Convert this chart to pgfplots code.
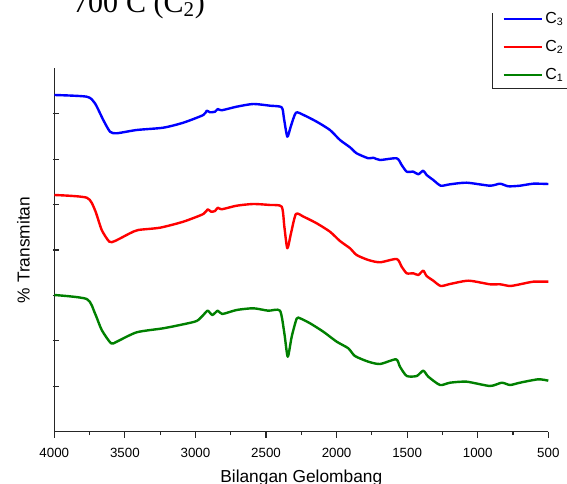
\documentclass[border=0pt]{standalone}
\usepackage{fontspec}
\setmainfont{Liberation Sans}
\newfontfamily\timesfont{Liberation Serif}
\usepackage{pgfplots}
\pgfplotsset{compat=1.18}
\definecolor{cblue}{RGB}{0,0,255}
\definecolor{cred}{RGB}{255,0,0}
\definecolor{cgreen}{RGB}{0,128,0}
\begin{document}
\begin{tikzpicture}
\useasboundingbox (-40.725pt,-39.225pt) rectangle (384.525pt,323.775pt);
\begin{axis}[
  at={(0pt,0pt)}, anchor=south west,
  scale only axis, width=370.5pt, height=272.55pt,
  xmin=500, xmax=4000, x dir=reverse,
  ymin=0, ymax=363.4,
  axis x line*=bottom, axis y line*=left,
  axis line style={-, black!85, line width=0.8pt},
  xtick={500,1000,1500,2000,2500,3000,3500,4000},
  minor x tick num=1,
  ytick={45.4,90.9,136.3,181.7,227.1,272.6,318.0},
  yticklabels={},
  tick align=outside,
  major tick length=4.5pt, minor tick length=2.6pt,
  tick style={black!85, line width=0.8pt},
  ytick style={xshift=3.5pt},
  /pgf/number format/assume math mode=true,
  /pgf/number format/set thousands separator={},
  xticklabel style={font=\fontsize{10}{12}\selectfont, yshift=-4pt},
  xlabel={Bilangan Gelombang},
  ylabel={\% Transmitan},
  xlabel style={font=\fontsize{13}{15}\selectfont, yshift=-3pt},
  ylabel style={font=\fontsize{13}{15}\selectfont, yshift=3.5pt},
  clip=false,
  legend style={draw=none, fill=none, inner sep=0pt, at={(axis description cs:0.907,1.162)}, anchor=north west,
    font=\fontsize{12}{14}\selectfont, row sep=7pt},
  legend cell align=left,
  legend image code/.code={\draw[#1, line width=1.4pt] (0pt,0pt) -- (28.7pt,0pt);},
  every axis plot/.append style={line width=1.8pt, line join=round, smooth, tension=0.4},
]
\addplot[cblue] coordinates {
(4000,336.7)(3770,335.0)(3712,328.4)(3653,311.7)(3605,300.0)(3558,298.4)(3416,301.7)
(3228,304.0)(3086,309.0)(2944,316.7)(2920,321.0)(2897,319.4)(2861,320.0)(2842,322.7)
(2814,321.4)(2708,325.0)(2590,327.7)(2472,326.0)(2389,324.4)(2373,313.4)(2349,295.0)
(2325,305.0)(2288,319.0)(2234,316.7)(2141,310.0)(2047,301.7)(1976,291.7)(1905,284.4)
(1858,278.4)(1775,273.4)(1740,274.0)(1692,271.7)(1574,273.4)(1539,266.7)(1503,260.0)
(1456,260.0)(1421,257.4)(1386,261.0)(1362,256.7)(1315,251.7)(1262,246.0)(1196,247.4)
(1078,249.0)(913,246.0)(842,248.0)(783,245.4)(701,246.0)(606,248.0)(500,247.7)
};
\addlegendentry{C\textsubscript{3}}
\addplot[cred] coordinates {
(4000,236.7)(3770,234.0)(3712,221.7)(3664,201.7)(3610,190.0)(3570,190.7)(3464,198.4)
(3405,201.7)(3251,204.0)(3086,210.0)(2944,217.7)(2913,222.4)(2890,220.0)(2861,220.7)
(2842,224.0)(2814,222.4)(2708,226.0)(2590,227.7)(2472,226.7)(2389,225.0)(2370,205.0)
(2349,183.4)(2323,198.4)(2288,217.7)(2234,215.0)(2141,208.4)(2047,200.0)(1976,190.7)
(1905,183.4)(1858,176.7)(1775,171.7)(1692,169.4)(1574,172.7)(1539,165.0)(1503,158.4)
(1456,158.4)(1421,156.7)(1386,161.0)(1362,155.7)(1315,151.0)(1262,145.7)(1196,147.7)
(1065,151.0)(913,147.4)(842,147.4)(771,145.7)(701,147.4)(606,150.0)(500,150.0)
};
\addlegendentry{C\textsubscript{2}}
\addplot[cgreen] coordinates {
(4000,136.7)(3770,132.7)(3712,118.4)(3664,101.7)(3598,88.4)(3558,90.0)(3416,99.4)
(3228,103.4)(3086,107.4)(2991,110.7)(2944,116.7)(2913,121.0)(2880,116.7)(2842,121.0)
(2810,117.7)(2708,121.7)(2590,123.4)(2484,121.0)(2401,121.0)(2370,98.4)(2346,75.0)
(2318,95.0)(2283,113.0)(2259,113.4)(2188,108.4)(2094,100.0)(1999,90.0)(1917,83.4)
(1870,75.7)(1775,70.0)(1692,67.7)(1579,72.4)(1551,65.0)(1503,55.7)(1432,55.7)
(1386,61.0)(1350,55.0)(1267,46.7)(1196,49.0)(1078,50.0)(913,45.7)(830,49.0)
(771,46.7)(701,49.0)(571,52.4)(500,51.0)
};
\addlegendentry{C\textsubscript{1}}
\end{axis}
\draw[black!85, line width=0.7pt] (328.8pt,314.0pt) -- (328.8pt,257.55pt) -- (390pt,257.55pt);
\node[anchor=base west, inner sep=0pt, font=\timesfont\fontsize{22.5}{27}\selectfont] at (14.0pt,314.4pt) {700\raisebox{10pt}{\fontsize{12}{12}\selectfont o}C (C\textsubscript{2})};
\end{tikzpicture}
\end{document}
